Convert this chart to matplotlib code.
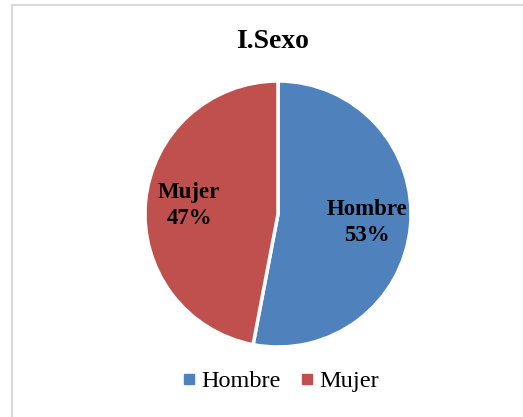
import matplotlib.pyplot as plt
from matplotlib.lines import Line2D

categorias = ["Hombre", "Mujer"]
valores = [53, 47]
colores = ["#4F81BD", "#C0504D"]
titulo = "I.Sexo"

plt.rcParams['font.family'] = ['Liberation Serif', 'DejaVu Serif']

W, H = 523, 417
fig = plt.figure(figsize=(W / 100, H / 100), dpi=100)

# borde gris claro (solo arriba e izquierda visibles)
fig.add_artist(Line2D([12 / W, 12 / W], [0, 1 - 5 / H], color="#D9D9D9", lw=1.5,
                      transform=fig.transFigure))
fig.add_artist(Line2D([12 / W, 1], [1 - 5 / H, 1 - 5 / H], color="#D9D9D9", lw=1.5,
                      transform=fig.transFigure))

# centro del pastel ~ (278, 214), radio ~ 133 px
cx, cy, r = 278, 214, 133
ax = fig.add_axes([(cx - r) / W, 1 - (cy + r) / H, 2 * r / W, 2 * r / H])

def etiqueta(pct):
    idx = valores.index(round(pct))
    return "%s\n%d%%" % (categorias[idx], round(pct))

wedges, texts, autotexts = ax.pie(valores, colors=colores, startangle=90, counterclock=False,
                                  autopct=etiqueta, pctdistance=0.67,
                                  wedgeprops=dict(edgecolor="white", linewidth=2.5))
for t in autotexts:
    t.set_fontsize(16.5)
    t.set_fontweight("bold")
    t.set_color("black")
    t.set_linespacing(1.3)
ax.set_xlim(-1, 1)
ax.set_ylim(-1, 1)
ax.set_aspect("equal")

fig.text(273 / W, 1 - 42 / H, titulo, ha="center", va="center", fontsize=20, fontweight="bold")

handles = [Line2D([], [], marker="s", linestyle="none", markersize=7, color=c) for c in colores]
fig.legend(handles, categorias, loc="center", bbox_to_anchor=(278 / W, 1 - 381 / H),
           ncol=2, frameon=False, fontsize=17.5, handletextpad=0.0, columnspacing=0.6,
           handlelength=1.0)

fig.savefig("out.png", dpi=100)
